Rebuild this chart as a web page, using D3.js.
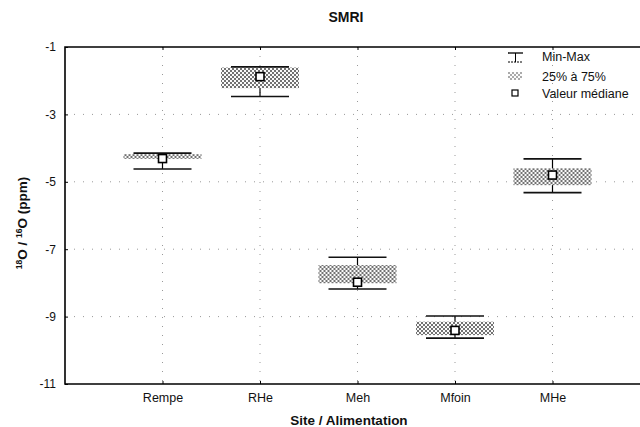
<!DOCTYPE html>
<html>
<head>
<meta charset="utf-8">
<script src="https://cdn.jsdelivr.net/npm/d3@7"></script>
<style>
  html, body { margin: 0; padding: 0; background: #fff; }
  svg { display: block; }
  text { font-family: "Liberation Sans", Arial, sans-serif; fill: #111; }
</style>
</head>
<body>
<svg id="chart" width="640" height="427"></svg>
<script>
// Oxygen isotope ratio by site / feeding regime
const sites   = ["Rempe", "RHe", "Meh", "Mfoin", "MHe"];
const maxVals = [-4.15, -1.59, -7.24, -8.98, -4.32];
const q3Vals  = [-4.18, -1.61, -7.47, -9.15, -4.60];
const medVals = [-4.31, -1.88, -7.98, -9.41, -4.80];
const q1Vals  = [-4.32, -2.22, -8.01, -9.55, -5.10];
const minVals = [-4.62, -2.47, -8.18, -9.64, -5.32];
const yTicks  = [-1, -3, -5, -7, -9, -11];
const legendLabels = ["Min-Max", "25% à 75%", "Valeur médiane"];

const svg = d3.select("#chart");
const plotLeft = 65, plotTop = 47, plotBottom = 384, plotRight = 650;

// stippled fill for the interquartile boxes
const defs = svg.append("defs");
const pat = defs.append("pattern")
  .attr("id", "stipple").attr("patternUnits", "userSpaceOnUse")
  .attr("width", 4).attr("height", 4);
pat.append("rect").attr("width", 4).attr("height", 4).attr("fill", "#fafafa");
pat.append("circle").attr("cx", 1).attr("cy", 1).attr("r", 1).attr("fill", "#444");
pat.append("circle").attr("cx", 3).attr("cy", 3).attr("r", 1).attr("fill", "#444");

const x = d3.scalePoint().domain(sites).range([plotLeft, plotRight]).padding(1);
const y = d3.scaleLinear().domain([-11, -1]).range([plotBottom, plotTop]);

// dotted grid
const grid = svg.append("g").attr("stroke", "#999").attr("stroke-width", 1)
  .attr("stroke-dasharray", "1,8");
grid.selectAll("line.v").data(sites).join("line").attr("class", "v")
  .attr("x1", d => x(d)).attr("x2", d => x(d)).attr("y1", plotTop).attr("y2", plotBottom);
grid.selectAll("line.h").data(yTicks.filter(t => t !== -1 && t !== -11)).join("line").attr("class", "h")
  .attr("x1", plotLeft).attr("x2", plotRight).attr("y1", d => y(d)).attr("y2", d => y(d));

// axes
const yAxis = d3.axisLeft(y).tickValues(yTicks).tickSize(-3).tickPadding(9)
  .tickFormat(d => String(d).replace("\u2212", "-"));
const gy = svg.append("g").attr("transform", `translate(${plotLeft},0)`).call(yAxis);
gy.select(".domain").remove();
gy.selectAll("text").attr("font-size", 12).attr("font-family", "Liberation Sans, Arial, sans-serif");

const xAxis = d3.axisBottom(x).tickSize(-3).tickPadding(9);
const gx = svg.append("g").attr("transform", `translate(0,${plotBottom})`).call(xAxis);
gx.select(".domain").remove();
gx.selectAll("text").attr("font-size", 12.5).attr("font-family", "Liberation Sans, Arial, sans-serif");

const gxTop = svg.append("g").attr("transform", `translate(0,${plotTop})`)
  .call(d3.axisTop(x).tickSize(-3).tickFormat(""));
gxTop.select(".domain").remove();

// frame
svg.append("path")
  .attr("d", `M${plotRight},${plotTop}H${plotLeft}V${plotBottom}H${plotRight}`)
  .attr("fill", "none").attr("stroke", "#000").attr("stroke-width", 1.6);

// box plots
const data = sites.map((s, i) => ({ s, max: maxVals[i], q3: q3Vals[i], med: medVals[i], q1: q1Vals[i], min: minVals[i] }));
const boxW = 78, capW = 58, sq = 8;
const g = svg.append("g").selectAll("g").data(data).join("g")
  .attr("transform", d => `translate(${x(d.s)},0)`);
g.append("line").attr("x1", 0).attr("x2", 0)
  .attr("y1", d => y(d.max)).attr("y2", d => y(d.min))
  .attr("stroke", "#000").attr("stroke-width", 1.2);
g.append("rect").attr("x", -boxW / 2).attr("width", boxW)
  .attr("y", d => y(d.q3)).attr("height", d => Math.max(2, y(d.q1) - y(d.q3)))
  .attr("fill", "url(#stipple)");
g.append("line").attr("x1", -capW / 2).attr("x2", capW / 2)
  .attr("y1", d => y(d.max)).attr("y2", d => y(d.max))
  .attr("stroke", "#111").attr("stroke-width", 1.6);
g.append("line").attr("x1", -capW / 2).attr("x2", capW / 2)
  .attr("y1", d => y(d.min)).attr("y2", d => y(d.min))
  .attr("stroke", "#111").attr("stroke-width", 1.6);
g.append("rect").attr("x", -sq / 2).attr("width", sq)
  .attr("y", d => y(d.med) - sq / 2).attr("height", sq)
  .attr("fill", "#fff").attr("stroke", "#000").attr("stroke-width", 1.6);

// title and axis titles
svg.append("text").attr("x", 346).attr("y", 22).attr("text-anchor", "middle")
  .attr("font-size", 14).attr("font-weight", "bold").text("SMRI");
svg.append("text").attr("x", 349).attr("y", 425).attr("text-anchor", "middle")
  .attr("font-size", 13.5).attr("font-weight", "bold").text("Site / Alimentation");
const yt = svg.append("text").attr("transform", "translate(27,223) rotate(-90)")
  .attr("text-anchor", "middle").attr("font-size", 13.5).attr("font-weight", "bold");
yt.append("tspan").attr("font-size", 8.5).attr("dy", -5).text("18");
yt.append("tspan").attr("dy", 5).text("O / ");
yt.append("tspan").attr("font-size", 8.5).attr("dy", -5).text("16");
yt.append("tspan").attr("dy", 5).text("O (ppm)");

// legend
const lg = svg.append("g");
const lx = 508, ly = [61, 81, 98];
lg.append("line").attr("x1", lx).attr("x2", lx + 15).attr("y1", 53).attr("y2", 53).attr("stroke", "#000").attr("stroke-width", 1.3);
lg.append("line").attr("x1", lx + 7.5).attr("x2", lx + 7.5).attr("y1", 53).attr("y2", 62).attr("stroke", "#000").attr("stroke-width", 1);
lg.append("line").attr("x1", lx).attr("x2", lx + 15).attr("y1", 62).attr("y2", 62).attr("stroke", "#000").attr("stroke-width", 1).attr("stroke-dasharray", "2,1");
lg.append("rect").attr("x", lx).attr("y", 72).attr("width", 14).attr("height", 8).attr("fill", "url(#stipple)").attr("opacity", 0.6);
lg.append("rect").attr("x", 512).attr("y", 90).attr("width", 6).attr("height", 6).attr("fill", "#fff").attr("stroke", "#000").attr("stroke-width", 1.2);
lg.selectAll("text").data(legendLabels).join("text")
  .attr("x", 542).attr("y", (d, i) => ly[i]).attr("font-size", 12.5).text(d => d);
</script>
</body>
</html>
